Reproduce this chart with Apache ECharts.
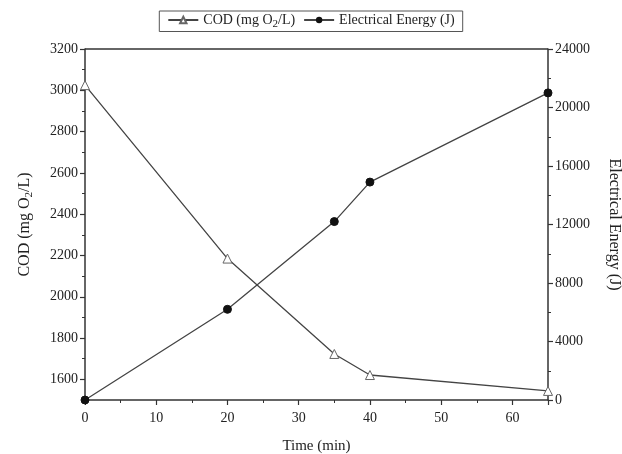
<!DOCTYPE html>
<html><head><meta charset="utf-8">
<script src="https://cdn.jsdelivr.net/npm/echarts@6/dist/echarts.min.js"></script>
<style>html,body{margin:0;padding:0;background:#fff}#c{width:622px;height:454px}</style>
</head><body><div id="c"></div>
<script>
const time = [0, 20, 35, 40, 65];
const cod = [3025, 2185, 1723, 1621, 1544];
const energy = [0, 6200, 12200, 14900, 21000];
const codTicks = [1600, 1800, 2000, 2200, 2400, 2600, 2800, 3000, 3200];
const codName = 'COD (mg O2/L)';
const energyName = 'Electrical Energy (J)';

const F = 'Liberation Serif';
const C = '#333';
const T = '#222';
const chart = echarts.init(document.getElementById('c'));
const plain = function (v) { return String(v); };
const lab = {fontFamily: F, fontSize: 14, color: T, margin: 7, formatter: plain};
chart.setOption({
  backgroundColor: '#fff',
  animation: false,
  legend: {
    top: 11, left: 'center',
    borderColor: '#555', borderWidth: 1, padding: [2, 8],
    itemWidth: 30, itemHeight: 8, itemGap: 8,
    data: [codName, energyName],
    formatter: function (n) { return n === codName ? '{a|COD (mg O}{s|2}{a|/L)}' : '{a|' + n + '}'; },
    textStyle: {fontFamily: F, fontSize: 14, color: T,
      rich: {a: {fontFamily: F, fontSize: 14, color: T}, s: {fontFamily: F, fontSize: 11, color: T, padding: [8, 0, 0, 0]}}}
  },
  grid: {left: 85, right: 74, top: 49, bottom: 54, outerBoundsMode: 'none', containLabel: false},
  xAxis: {
    type: 'value', min: 0, max: 65, interval: 10,
    name: 'Time (min)', nameLocation: 'middle', nameGap: 39,
    nameTextStyle: {fontFamily: F, fontSize: 15, color: T},
    axisLine: {show: true, onZero: false, lineStyle: {color: C, width: 1.5}},
    axisTick: {show: true, length: 5, lineStyle: {color: C, width: 1.2}},
    minorTick: {show: true, splitNumber: 2, length: 3, lineStyle: {color: C, width: 1}},
    splitLine: {show: false},
    axisLabel: Object.assign({}, lab, {margin: 11, showMaxLabel: false})
  },
  yAxis: [
    {
      type: 'value', min: 1500, max: 3200, interval: 100, position: 'left',
      axisLine: {show: true, onZero: false, lineStyle: {color: C, width: 1.5}},
      axisTick: {show: true, length: 5, customValues: codTicks, lineStyle: {color: C, width: 1.2}},
      splitLine: {show: false},
      axisLabel: Object.assign({}, lab, {customValues: codTicks}),
      name: '{a|COD (mg O}{s|2}{a|/L)}', nameLocation: 'middle', nameGap: 50,
      nameTextStyle: {rich: {a: {fontFamily: F, fontSize: 16, color: T}, s: {fontFamily: F, fontSize: 11, color: T, padding: [10, 0, 0, 0]}}}
    },
    {
      type: 'value', min: 0, max: 24000, interval: 4000, position: 'right',
      axisLine: {show: true, onZero: false, lineStyle: {color: C, width: 1.5}},
      axisTick: {show: true, length: 5, lineStyle: {color: C, width: 1.2}},
      minorTick: {show: true, splitNumber: 2, length: 3, lineStyle: {color: C, width: 1}},
      splitLine: {show: false},
      axisLabel: lab,
      name: energyName, nameLocation: 'middle', nameGap: 58, nameRotate: -90,
      nameTextStyle: {fontFamily: F, fontSize: 16, color: T}
    },
    {
      type: 'value', min: 1500, max: 3200, interval: 100, position: 'left',
      axisLine: {show: false},
      axisTick: {show: true, length: 3, lineStyle: {color: C, width: 1}},
      splitLine: {show: false},
      axisLabel: {show: false}
    }
  ],
  series: [
    {
      name: codName, type: 'line', yAxisIndex: 0,
      data: time.map((t, i) => [t, cod[i]]),
      symbol: 'triangle', symbolSize: 9,
      lineStyle: {color: '#444', width: 1.3},
      itemStyle: {color: '#fff', borderColor: '#666', borderWidth: 1}
    },
    {
      name: energyName, type: 'line', yAxisIndex: 1,
      data: time.map((t, i) => [t, energy[i]]),
      symbol: 'circle', symbolSize: 8,
      lineStyle: {color: '#444', width: 1.3},
      itemStyle: {color: '#111', borderColor: '#111'}
    }
  ],
  graphic: [{
    type: 'line', shape: {x1: 85, y1: 49, x2: 548, y2: 49}, style: {stroke: C, lineWidth: 1.5}
  }]
});
</script></body></html>
